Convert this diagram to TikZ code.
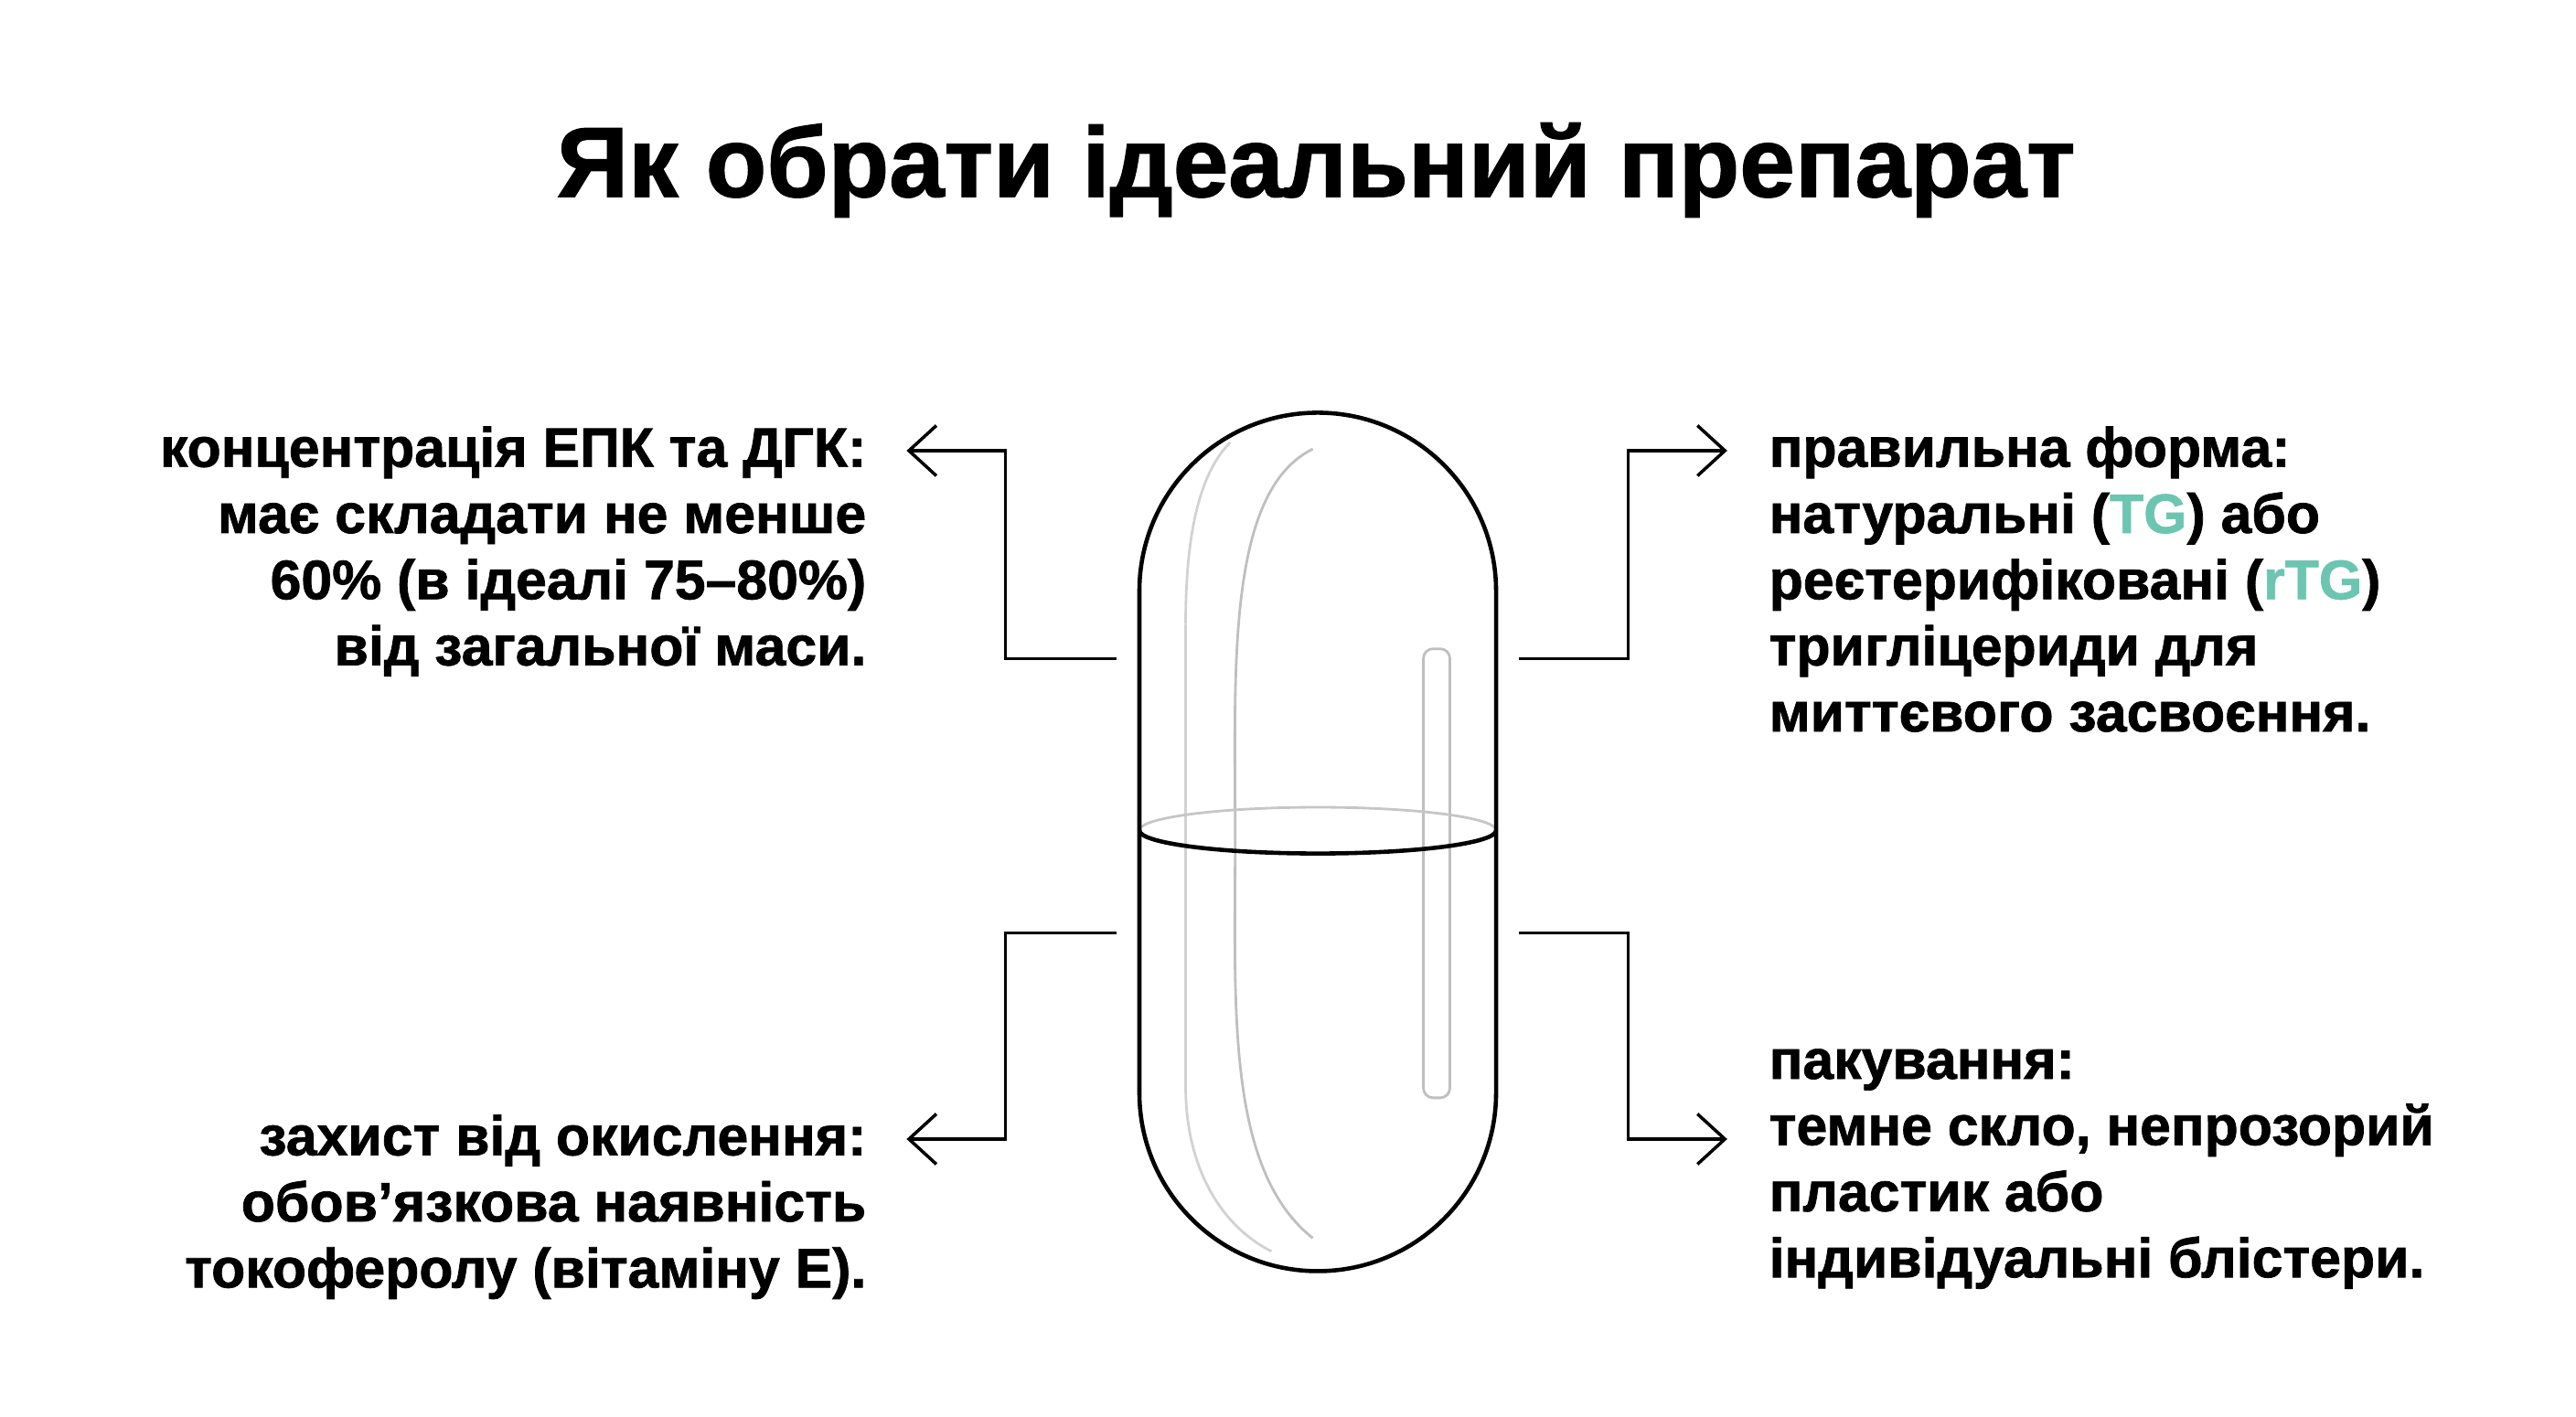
\documentclass[tikz,border=0pt]{standalone}
\usepackage{fontspec}
\setmainfont{Liberation Sans}[FakeBold=1.2]
\usetikzlibrary{arrows.meta}
\definecolor{teal}{HTML}{6CC5B0}
\begin{document}
\begin{tikzpicture}[x=0.01806cm,y=0.01806cm,
    lead/.style={line width=1pt,-{Straight Barb[length=3mm,width=5.5mm]}},
    note/.style={inner sep=0pt,font=\bfseries\fontsize{17.3pt}{20.6pt}\selectfont},
    shell/.style={line width=1.3pt}]
  \useasboundingbox (0,0) rectangle (1560,858);
  \node[font=\bfseries\fontsize{31pt}{36pt}\selectfont] (title) at (797,755) {Як обрати ідеальний препарат};
  % capsule
  \draw[gray!50,line width=0.8pt] (795,586) .. controls (742,560) and (748,450) .. (748,350)
      .. controls (748,250) and (742,150) .. (795,108);
  \draw[gray!35,line width=0.8pt] (718,480) -- (718,200);
  \draw[gray!35,line width=0.8pt] (745,590) .. controls (725,570) and (718,530) .. (718,480);
  \draw[gray!35,line width=0.8pt] (718,200) .. controls (718,150) and (740,115) .. (770,100);
  \draw[gray!50,line width=0.8pt,rounded corners=3] (862,465) rectangle (878,193);
  \draw[gray!45,line width=0.8pt] (690,355) arc (180:0:108 and 14);
  \draw[shell] (690,355) arc (180:360:108 and 14);
  \draw[shell] (690,500) arc (180:0:108) -- (906,196) arc (360:180:108) -- cycle;
  % left texts
  \node[note,anchor=north east,align=right] (epk) at (525,600)
    {концентрація ЕПК та ДГК:\\має складати не менше\\60\% (в ідеалі 75–80\%)\\від загальної маси.};
  \node[note,anchor=north east,align=right] (ox) at (525,183)
    {захист від окислення:\\обов’язкова наявність\\токоферолу (вітаміну Е).};
  % right texts
  \node[note,anchor=north west,align=left] (form) at (1071,600)
    {правильна форма:\\натуральні (\textcolor{teal}{TG}) або\\реєтерифіковані (\textcolor{teal}{rTG})\\тригліцериди для\\миттєвого засвоєння.};
  \node[note,anchor=north west,align=left] (pack) at (1071,223)
    {пакування:\\темне скло, непрозорий\\пластик або\\індивідуальні блістери.};
  % connectors
  \coordinate (lt) at (676,459); \coordinate (ltk) at (609,459);
  \coordinate (ltu) at (609,585); \coordinate (lte) at (549,585);
  \coordinate (lb) at (676,293); \coordinate (lbk) at (609,293);
  \coordinate (lbd) at (609,168); \coordinate (lbe) at (549,168);
  \coordinate (rt) at (920,459); \coordinate (rtk) at (986,459);
  \coordinate (rtu) at (986,585); \coordinate (rte) at (1046,585);
  \coordinate (rb) at (920,293); \coordinate (rbk) at (986,293);
  \coordinate (rbd) at (986,168); \coordinate (rbe) at (1046,168);
  \draw[lead] (lt) -- (ltk) -- (ltu) -- (lte);
  \draw[lead] (lb) -- (lbk) -- (lbd) -- (lbe);
  \draw[lead] (rt) -- (rtk) -- (rtu) -- (rte);
  \draw[lead] (rb) -- (rbk) -- (rbd) -- (rbe);
\end{tikzpicture}
\end{document}
